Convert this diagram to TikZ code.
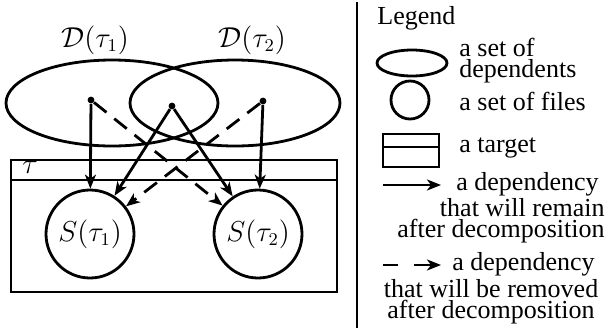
\documentclass[tikz,border=0pt]{standalone}
\usepackage{fontspec}
\setmainfont{Liberation Serif}
\usetikzlibrary{shapes.geometric,arrows.meta}
\begin{document}
\begin{tikzpicture}[x=0.5pt,y=-0.5pt,
  lw/.style={line width=1.4pt},
  setell/.style={draw,lw,ellipse,inner sep=0pt},
  filecirc/.style={draw,lw,circle,inner sep=0pt,minimum size=44pt,font=\fontsize{13.5}{15}\selectfont},
  dot/.style={circle,fill=black,inner sep=0pt,minimum size=3.4pt},
  dep/.style={lw,-{Stealth[length=7pt,width=5.5pt,inset=2pt]}},
  rem/.style={dep,dash pattern=on 8pt off 5pt},
  mlab/.style={font=\fontsize{13.5}{15}\selectfont},
  leg/.style={font=\fontsize{13}{10.6}\selectfont,inner sep=0pt}]
\useasboundingbox (0,0) rectangle (606,328);
% dependents sets
\node[setell,minimum width=106pt,minimum height=43pt] (D1) at (112,103) {};
\node[setell,minimum width=105pt,minimum height=43pt] (D2) at (235,103) {};
\node[mlab] (L1) at (95,40) {$\mathcal{D}(\tau_1)$};
\node[mlab] (L2) at (252,40) {$\mathcal{D}(\tau_2)$};
% target
\node[draw,lw,minimum width=163pt,minimum height=66pt,inner sep=0pt] (T) at (174,226) {};
\draw[lw] (11,180) -- (337,180);
\node[mlab] (tau) at (30,167) {$\tau$};
% file sets
\node[filecirc] (S1) at (90,234) {$S(\tau_1)$};
\node[filecirc] (S2) at (258,234) {$S(\tau_2)$};
% dependents
\node[dot] (d1) at (91,100) {};
\node[dot] (dc) at (172,106) {};
\node[dot] (d2) at (263,101) {};
% dependencies
\draw[dep] (d1) -- (S1);
\draw[dep] (d2) -- (S2);
\draw[dep] (dc) -- (S1);
\draw[dep] (dc) -- (S2);
\draw[rem] (d1) -- (S2);
\draw[rem] (d2) -- (S1);
% separator
\draw[lw] (357,2) -- (357,328);
% legend
\node[leg,anchor=west] (lg) at (377,18) {Legend};
\node[setell,minimum width=35pt,minimum height=13pt] (le) at (412,63) {};
\node[leg,anchor=west,align=left] (lt1) at (459,61) {a set of\\dependents};
\node[draw,lw,circle,inner sep=0pt,minimum size=19pt] (lc) at (410,100) {};
\node[leg,anchor=west] (lt2) at (459,101) {a set of files};
\node[draw,lw,minimum width=28pt,minimum height=16.5pt,inner sep=0pt] (lr) at (411,150.5) {};
\draw[lw] (383,147) -- (439,147);
\node[leg,anchor=west] (lt3) at (459,148) {a target};
\coordinate (a1s) at (383,185);
\coordinate (a1e) at (441,185);
\draw[dep] (a1s) -- (a1e);
\node[leg,anchor=west] (lt4) at (456,184) {a dependency};
\node[leg,anchor=east,align=right] (lt5) at (605,221) {that will remain\\after decomposition};
\coordinate (a2s) at (383,265);
\coordinate (a2e) at (441,265);
\draw[dep,dash pattern=on 7.5pt off 8pt on 40pt] (a2s) -- (a2e);
\node[leg,anchor=west] (lt6) at (452,264) {a dependency};
\node[leg,align=center] (lt7) at (491,302) {that will be removed\\after decomposition};
\end{tikzpicture}
\end{document}
